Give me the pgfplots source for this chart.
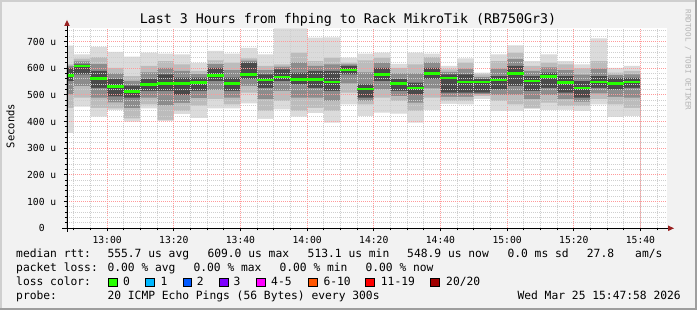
\documentclass[border=0pt]{standalone}
\usepackage{pgfplots}
\pgfplotsset{compat=1.18}
\usepackage{pgfplotstable}
\usepackage{fontspec}
\newfontfamily\mono{DejaVu Sans Mono}
\definecolor{bgc}{HTML}{F2F2F2}
\definecolor{shadea}{HTML}{CFCFCF}
\definecolor{shadeb}{HTML}{9E9E9E}
\definecolor{smokelight}{HTML}{DBDBDB}
\definecolor{smokemid}{HTML}{BCBCBC}
\definecolor{smokemidb}{HTML}{8C8C8C}
\definecolor{smokedark}{HTML}{4A4A4A}
\definecolor{gridc}{HTML}{CFCFCF}
\definecolor{mgridc}{HTML}{FF9A9A}
\definecolor{arrowc}{HTML}{992222}
\definecolor{wmark}{HTML}{B4B4B4}
\definecolor{lc0}{HTML}{26FF00}
\definecolor{lc1}{HTML}{00B8FF}
\definecolor{lc2}{HTML}{0059FF}
\definecolor{lc3}{HTML}{7E00FF}
\definecolor{lc4}{HTML}{FF00FF}
\definecolor{lc6}{HTML}{FF5500}
\definecolor{lc11}{HTML}{FF0000}
\definecolor{lc20}{HTML}{A10000}
\pgfplotstableread{
x max hi mhi dhi med dlo mlo lo min
47.97 685 615 609 602 572 552 502 452 357
50 652 636 626 615 609 577 533 490 456
55 680 642 616 590 561 527 490 452 419
60 662 602 581 560 531 495 472 450 443
65 644 571 553 535 513 490 451 412 400
70 659 609 585 560 540 515 490 465 450
75 655 627 602 577 544 515 461 407 402
80 652 615 590 565 544 500 470 440 428
85 620 590 578 565 546 515 488 460 413
90 665 630 616 602 572 552 518 484 450
95 655 621 593 565 542 515 490 465 450
100 677 637 629 621 576 559 534 509 468
105 652 609 593 577 556 527 484 440 410
110 750 615 606 596 567 552 515 477 446
115 750 659 622 584 557 540 490 440 419
120 715 627 609 590 557 527 490 452 432
125 716 640 615 590 549 515 478 440 396
130 640 621 615 609 594 577 543 509 465
135 655 630 585 540 522 490 478 465 421
140 659 640 621 602 576 552 521 490 434
145 617 602 581 559 542 515 496 477 430
150 659 615 581 546 526 502 471 440 396
155 655 642 622 602 580 559 525 490 443
160 609 596 587 577 564 509 493 477 467
165 637 621 599 577 549 509 493 477 465
170 584 577 568 559 549 509 503 496 484
175 652 627 599 571 556 521 499 477 440
180 686 659 634 609 580 534 500 465 440
185 627 609 590 571 552 515 484 452 448
190 652 621 603 584 569 527 499 471 443
195 627 615 593 571 546 509 484 459 444
200 615 600 576 552 526 490 475 459 440
205 712 627 599 571 549 527 506 484 465
210 602 584 574 564 542 521 493 465 417
215 609 590 577 564 549 527 490 452 421
220 609 590 577 564 549 527 490 452 421
}\smoke
\newcommand{\legfont}{\mono\fontsize{11.3}{13}\selectfont}
\newcommand{\tickfont}{\mono\fontsize{9.7}{11}\selectfont}
\pgfplotsset{chartbox/.style={
  scale only axis, width=600pt, height=200pt,
  at={(67pt,81.7pt)}, anchor=south west,
  xmin=47.97, xmax=227.97, ymin=0, ymax=750}}
\begin{document}
\begin{tikzpicture}[x=1pt,y=1pt]
% background and frame
\fill[bgc] (0,0) rectangle (697,310);
\fill[shadea] (0,308) rectangle (697,310);
\fill[shadea] (0,0) rectangle (2,310);
\fill[shadeb] (0,0) rectangle (697,2);
\fill[shadeb] (695,0) rectangle (697,310);
\begin{axis}[
  chartbox,
  axis on top,
  axis line style={draw=none},
  axis background/.style={fill=white},
  xtick={60,80,...,220},
  xticklabels={13:00,13:20,13:40,14:00,14:20,14:40,15:00,15:20,15:40},
  minor xtick={50,55,65,70,75,85,90,95,105,110,115,125,130,135,145,150,155,165,170,175,185,190,195,205,210,215,225},
  ytick={0,100,...,700},
  yticklabels={0\hphantom{\ u},100 u,200 u,300 u,400 u,500 u,600 u,700 u},
  minor ytick={20,40,60,80,120,140,160,180,220,240,260,280,320,340,360,380,420,440,460,480,520,540,560,580,620,640,660,680,720,740},
  grid=both,
  major grid style={mgridc, dash pattern=on 1pt off 1pt, line width=1pt},
  minor grid style={gridc, dash pattern=on 1pt off 1pt, line width=1pt},
  tick align=outside, major tick length=3pt, minor tick length=2pt,
  tick style={black, line width=1pt},
  xtick pos=bottom, ytick pos=left,
  xticklabel style={font=\tickfont, anchor=north, inner sep=0pt, yshift=-5pt},
  yticklabel style={font=\tickfont, anchor=east, inner sep=0pt, xshift=-7.5pt},
]
\addplot[fill=smokelight, draw=none, const plot] table[x=x,y=max]{\smoke} \closedcycle;
\addplot[fill=smokemid, draw=none, const plot] table[x=x,y=hi]{\smoke} \closedcycle;
\addplot[fill=smokemidb, draw=none, const plot] table[x=x,y=mhi]{\smoke} \closedcycle;
\addplot[fill=smokedark, draw=none, const plot] table[x=x,y=dhi]{\smoke} \closedcycle;
\addplot[fill=smokemidb, draw=none, const plot] table[x=x,y=dlo]{\smoke} \closedcycle;
\addplot[fill=smokemid, draw=none, const plot] table[x=x,y=mlo]{\smoke} \closedcycle;
\addplot[fill=smokelight, draw=none, const plot] table[x=x,y=lo]{\smoke} \closedcycle;
\addplot[fill=white, draw=none, const plot] table[x=x,y=min]{\smoke} \closedcycle;
\end{axis}
% overlay axis for the median line (above the grid)
\begin{axis}[chartbox, hide axis]
\addplot[draw=lc0, line width=2.6pt, jump mark left, mark=none, solid] table[x=x,y=med]{\smoke};
\end{axis}
% axes lines and arrows
\draw[black, line width=1pt] (62,81.7) -- (670,81.7);
\draw[black, line width=1pt] (67,78) -- (67,285);
\fill[arrowc] (668,84.5) -- (674,81.7) -- (668,78.9) -- cycle;
\fill[arrowc] (64.2,284) -- (67,290) -- (69.8,284) -- cycle;
% title
\node[anchor=base, inner sep=0pt, font={\mono\fontsize{13.3}{15}\selectfont}] at (348,286) {Last 3 Hours from fhping to Rack MikroTik (RB750Gr3)};
% y label
\node[rotate=90, inner sep=0pt, font={\mono\fontsize{10.5}{12}\selectfont}] at (10.5,184) {Seconds};
% watermark
\node[rotate=-90, inner sep=0pt, text=wmark, font={\mono\fontsize{7.6}{9}\selectfont}] at (688,250) {RRDTOOL / TOBI OETIKER};
% legend rows
\begin{scope}[every node/.style={anchor=base west, inner sep=0pt, font=\legfont}]
\node at (16,52.3) {median rtt:};
\node at (107.3,52.3) {555.7 us avg};
\node at (207.3,52.3) {609.0 us max};
\node at (307.5,52.3) {513.1 us min};
\node at (407,52.3) {548.9 us now};
\node at (507.3,52.3) {0.0 ms sd};
\node at (586.7,52.3) {27.8};
\node at (635,52.3) {am/s};
\node at (16,38.3) {packet loss:};
\node at (107.3,38.3) {0.00 \% avg};
\node at (193.3,38.3) {0.00 \% max};
\node at (279.3,38.3) {0.00 \% min};
\node at (365.3,38.3) {0.00 \% now};
\node at (16,24.7) {loss color:};
\node at (123,24.7) {0};
\node at (160.3,24.7) {1};
\node at (196.7,24.7) {2};
\node at (233.3,24.7) {3};
\node at (271,24.7) {4-5};
\node at (323.3,24.7) {6-10};
\node at (380.7,24.7) {11-19};
\node at (446,24.7) {20/20};
\node at (16,10.7) {probe:};
\node at (107.3,10.7) {20 ICMP Echo Pings (56 Bytes) every 300s};
\node[anchor=base east] at (681,10.7) {Wed Mar 25 15:47:58 2026};
\end{scope}
\begin{scope}[line width=1pt, draw=black]
\filldraw[fill=lc0] (108.5,23.5) rectangle (117,31.5);
\filldraw[fill=lc1] (145.8,23.5) rectangle (154.3,31.5);
\filldraw[fill=lc2] (183.2,23.5) rectangle (191.7,31.5);
\filldraw[fill=lc3] (219.5,23.5) rectangle (228,31.5);
\filldraw[fill=lc4] (256.5,23.5) rectangle (265,31.5);
\filldraw[fill=lc6] (308.8,23.5) rectangle (317.3,31.5);
\filldraw[fill=lc11] (365.5,23.5) rectangle (374,31.5);
\filldraw[fill=lc20] (430.5,23.5) rectangle (439,31.5);
\end{scope}
\pgfresetboundingbox
\useasboundingbox (0,0) rectangle (697,310);
\end{tikzpicture}
\end{document}
